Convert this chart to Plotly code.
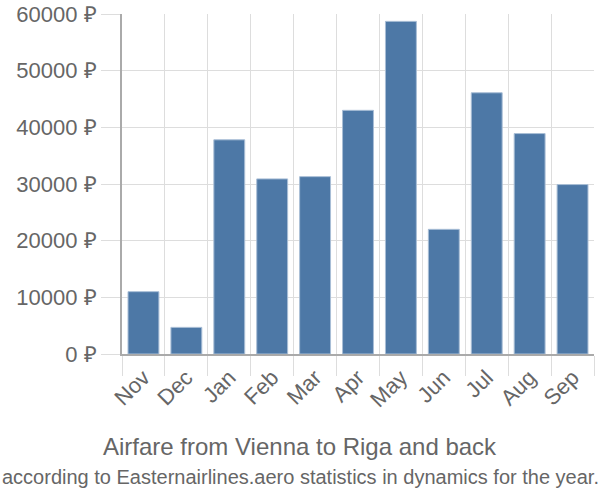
import plotly.graph_objects as go

months = ["Nov", "Dec", "Jan", "Feb", "Mar", "Apr", "May", "Jun", "Jul", "Aug", "Sep"]
prices = [11000, 4700, 37800, 30900, 31300, 43000, 58700, 22000, 46100, 38900, 29900]
y_ticks = [0, 10000, 20000, 30000, 40000, 50000, 60000]
y_labels = [f"{v} ₽" for v in y_ticks]
title = "Airfare from Vienna to Riga and back"
subtitle = "according to Easternairlines.aero statistics in dynamics for the year."

FONT = "Liberation Sans, Arial, sans-serif"
GREY = "#666666"

fig = go.Figure(go.Bar(
    x=months, y=prices,
    marker=dict(color="#4d78a6", line=dict(color="#a9bed6", width=1)),
    width=0.72,
))

L, R, T, B = 122, 6, 14, 146
pw = 600 - L - R
fig.update_layout(
    width=600, height=500,
    margin=dict(l=L, r=R, t=T, b=B, autoexpand=False),
    paper_bgcolor="white", plot_bgcolor="white",
    showlegend=False,
    font=dict(family=FONT, color=GREY),
    xaxis=dict(
        type="category", tickson="boundaries", showgrid=True,
        gridcolor="#dddddd", gridwidth=1,
        ticks="outside", ticklen=20, tickcolor="#dddddd",
        tickangle=-45, tickfont=dict(size=22, color=GREY),
        showline=True, linecolor="#aaaaaa", linewidth=2,
    ),
    yaxis=dict(
        range=[0, 60000], tickvals=y_ticks, ticktext=y_labels,
        showgrid=True, gridcolor="#dddddd", gridwidth=1,
        ticks="outside", ticklen=19, tickcolor="#dddddd",
        tickfont=dict(size=22, color=GREY),
        showline=True, linecolor="#aaaaaa", linewidth=2,
        zeroline=False,
    ),
    annotations=[
        dict(text=title, xref="paper", yref="paper",
             x=(300 - L) / pw, y=-(446 - (500 - B)) / (500 - T - B),
             xanchor="center", yanchor="middle", showarrow=False,
             font=dict(size=24, color=GREY, family=FONT)),
        dict(text=subtitle, xref="paper", yref="paper",
             x=(300 - L) / pw, y=-(477 - (500 - B)) / (500 - T - B),
             xanchor="center", yanchor="middle", showarrow=False,
             font=dict(size=20, color=GREY, family=FONT)),
    ],
)

fig.write_html("out.html")
